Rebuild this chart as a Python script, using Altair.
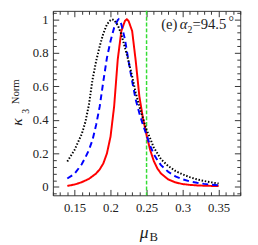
import altair as alt
import pandas as pd

# ---- data ----
mu_red = [0.14, 0.15, 0.16, 0.17, 0.18, 0.185, 0.19, 0.195, 0.2, 0.205, 0.21, 0.215, 0.22, 0.2226,
          0.225, 0.23, 0.235, 0.24, 0.245, 0.25, 0.255, 0.26, 0.265, 0.27, 0.28, 0.29, 0.30,
          0.31, 0.32, 0.33, 0.34, 0.35]
k_red = [0.006, 0.014, 0.028, 0.048, 0.08, 0.105, 0.14, 0.2, 0.3, 0.48, 0.76, 0.93, 0.99, 1.0,
         0.99, 0.93, 0.75, 0.54, 0.41, 0.31, 0.22, 0.155, 0.11, 0.08, 0.045, 0.027, 0.017,
         0.012, 0.009, 0.007, 0.006, 0.005]

mu_blue = [0.14, 0.15, 0.16, 0.165, 0.17, 0.175, 0.18, 0.185, 0.19, 0.195, 0.2, 0.205, 0.21, 0.2113,
           0.215, 0.22, 0.225, 0.23, 0.235, 0.24, 0.245, 0.25, 0.255, 0.26, 0.265, 0.27, 0.28,
           0.29, 0.30, 0.31, 0.32, 0.33, 0.34, 0.35]
k_blue = [0.05, 0.078, 0.135, 0.175, 0.22, 0.28, 0.37, 0.48, 0.63, 0.77, 0.87, 0.95, 0.995, 1.0,
          0.97, 0.88, 0.75, 0.63, 0.52, 0.44, 0.37, 0.31, 0.245, 0.195, 0.16, 0.13, 0.09,
          0.063, 0.045, 0.033, 0.025, 0.018, 0.013, 0.009]

mu_black = [0.14, 0.15, 0.16, 0.165, 0.17, 0.175, 0.18, 0.185, 0.19, 0.195, 0.2, 0.2023, 0.205,
            0.21, 0.215, 0.22, 0.225, 0.23, 0.235, 0.24, 0.245, 0.25, 0.255, 0.26, 0.27, 0.28,
            0.29, 0.30, 0.31, 0.32, 0.33, 0.34, 0.35]
k_black = [0.152, 0.22, 0.315, 0.385, 0.49, 0.64, 0.75, 0.84, 0.915, 0.97, 0.995, 1.0, 0.995,
           0.965, 0.91, 0.83, 0.75, 0.66, 0.56, 0.48, 0.41, 0.34, 0.29, 0.235, 0.165, 0.125,
           0.095, 0.075, 0.058, 0.045, 0.035, 0.027, 0.02]

mu_marker = [0.25]

x_major = [0.15, 0.2, 0.25, 0.3, 0.35]
x_minor = [0.12, 0.13, 0.14, 0.16, 0.17, 0.18, 0.19, 0.21, 0.22, 0.23, 0.24, 0.26, 0.27, 0.28,
           0.29, 0.31, 0.32, 0.33, 0.34, 0.36, 0.37, 0.38]
y_major = [0, 0.2, 0.4, 0.6, 0.8, 1]
y_minor = [-0.04, 0.04, 0.08, 0.12, 0.16, 0.24, 0.28, 0.32, 0.36, 0.44, 0.48, 0.52, 0.56,
           0.64, 0.68, 0.72, 0.76, 0.84, 0.88, 0.92, 0.96, 1.04]

XDOM = [0.12, 0.38]
YDOM = [-0.05, 1.05]
FONT = "Liberation Serif"
INK = "#222222"

def frame(mus, ks, name):
    return pd.DataFrame({"mu": mus, "k": ks, "series": name})

df_red = frame(mu_red, k_red, "red")
df_blue = frame(mu_blue, k_blue, "blue")
df_black = frame(mu_black, k_black, "black")
df_all = pd.concat([df_red, df_blue, df_black], ignore_index=True)

xs = alt.Scale(domain=XDOM, nice=False, zero=False)
ys = alt.Scale(domain=YDOM, nice=False, zero=False)


def curve(df, color, dash, width):
    return alt.Chart(df).mark_line(color=color, strokeDash=dash, strokeWidth=width).encode(
        x=alt.X("mu:Q", scale=xs, axis=None),
        y=alt.Y("k:Q", scale=ys, axis=None),
    )


red = curve(df_red, "#ff0000", [1, 0], 2)
blue = curve(df_blue, "#0000ff", [6, 4], 2)
black = curve(df_black, "#000000", [1.5, 1.8], 2)

marker = alt.Chart(pd.DataFrame({"mu": mu_marker})).mark_rule(
    color="#33dd33", strokeDash=[4, 2], strokeWidth=1.5
).encode(x=alt.X("mu:Q", scale=xs, axis=None))


def axis_layer(xorient, yorient, xvals, yvals, size, labels):
    common = dict(grid=False, domain=False, title=None, tickSize=size, offset=-size,
                  tickColor="#333333", tickWidth=1)
    xa = alt.Axis(orient=xorient, values=xvals, labels=labels, format="~g",
                  labelFont=FONT, labelFontSize=13, labelColor=INK, labelPadding=7, **common)
    ya = alt.Axis(orient=yorient, values=yvals, labels=labels, format="~g",
                  labelFont=FONT, labelFontSize=13, labelColor=INK, labelPadding=5, **common)
    return alt.Chart(df_all).mark_point(opacity=0).encode(
        x=alt.X("mu:Q", scale=xs, axis=xa),
        y=alt.Y("k:Q", scale=ys, axis=ya),
    )


ax1 = axis_layer("bottom", "left", x_major, y_major, 6, True)
ax2 = axis_layer("bottom", "left", x_minor, y_minor, 3.5, False)
ax3 = axis_layer("top", "right", x_major, y_major, 6, False)
ax4 = axis_layer("top", "right", x_minor, y_minor, 3.5, False)


def label(text, x, y, size, italic=False, angle=0, align="left", baseline="alphabetic"):
    return alt.Chart(pd.DataFrame({"t": [text]})).mark_text(
        font=FONT, fontSize=size, fontStyle="italic" if italic else "normal",
        color=INK, align=align, baseline=baseline, angle=angle
    ).encode(text="t:N", x=alt.value(x), y=alt.value(y))


texts = [
    label("(e)", 111, 19, 15),
    label("α", 130, 19, 15, italic=True),
    label("2", 138, 23, 10),
    label("=94.5", 143, 19, 15),
    label("°", 180, 16, 14),
    label("μ", 89, 233, 18, italic=True),
    label("B", 99, 236, 13),
    label("κ", -32, 114, 16, italic=True, angle=270, align="center"),
    label("3", -24, 103, 10, angle=270, align="center"),
    label("Norm", -35, 83, 11, angle=270, align="center"),
]

chart = alt.layer(
    marker, red, blue, black, ax1, ax2, ax3, ax4, *texts
).resolve_axis(x="independent", y="independent").properties(
    width=192, height=189,
    autosize=alt.AutoSizeParams(type="none"),
    padding={"left": 46, "top": 0, "right": 10, "bottom": 48},
).configure_view(stroke="#333333", strokeWidth=1)

chart.save("out.html", embed_options={"renderer": "svg", "actions": False})
